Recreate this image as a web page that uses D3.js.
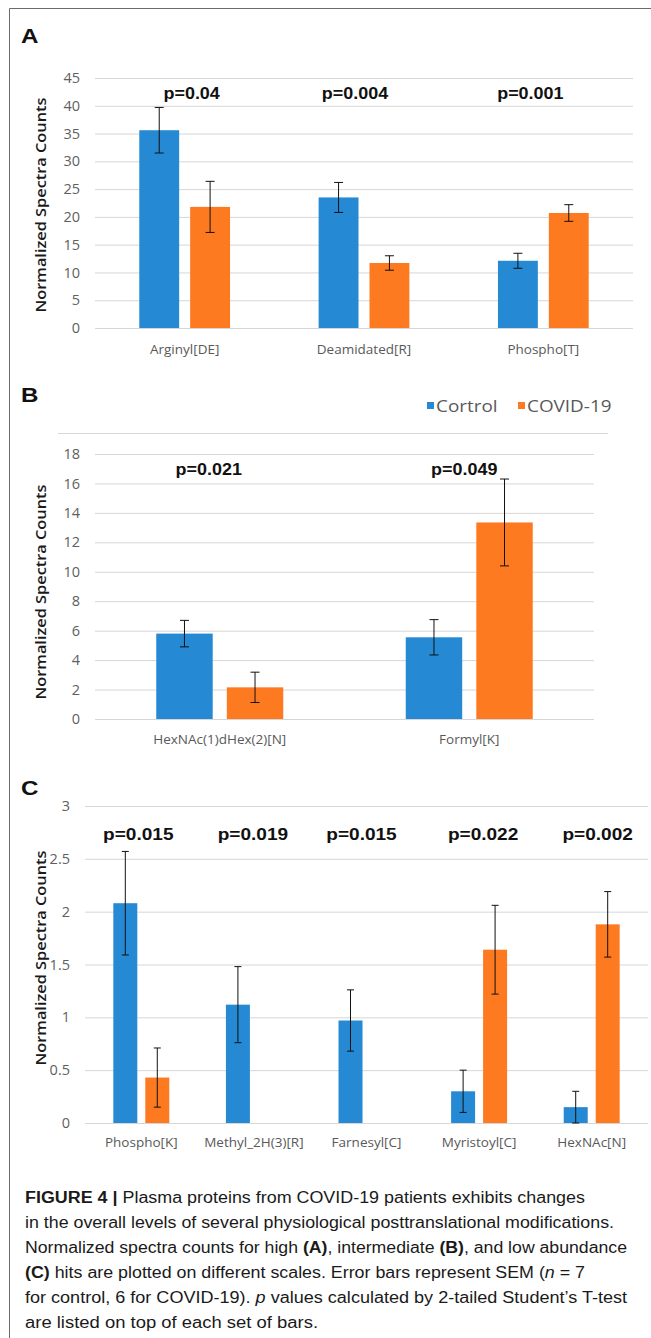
<!DOCTYPE html>
<html>
<head>
<meta charset="utf-8">
<script src="https://cdn.jsdelivr.net/npm/d3@7"></script>
<style>
  body { margin: 0; background: #fff; }
  svg { display: block; }
</style>
</head>
<body>
<script>
// data
const series = ["Cortrol", "COVID-19"]
const colors = ["#2589d3", "#fd7a21"]

const catsA = ["Arginyl[DE]", "Deamidated[R]", "Phospho[T]"]
const controlA = [35.6, 23.5, 12.1]
const covidA = [21.8, 11.7, 20.7]
const semControlA = [4.1, 2.7, 1.35]
const semCovidA = [4.6, 1.3, 1.5]
const pA = ["p=0.04", "p=0.004", "p=0.001"]
const ticksA = [0, 5, 10, 15, 20, 25, 30, 35, 40, 45]

const catsB = ["HexNAc(1)dHex(2)[N]", "Formyl[K]"]
const controlB = [5.8, 5.55]
const covidB = [2.15, 13.35]
const semControlB = [0.9, 1.2]
const semCovidB = [1.03, 2.95]
const pB = ["p=0.021", "p=0.049"]
const ticksB = [0, 2, 4, 6, 8, 10, 12, 14, 16, 18]

const catsC = ["Phospho[K]", "Methyl_2H(3)[R]", "Farnesyl[C]", "Myristoyl[C]", "HexNAc[N]"]
const controlC = [2.08, 1.12, 0.97, 0.30, 0.15]
const covidC = [0.43, 0, 0, 1.64, 1.88]
const semControlC = [0.49, 0.36, 0.29, 0.20, 0.15]
const semCovidC = [0.28, 0, 0, 0.42, 0.31]
const pC = ["p=0.015", "p=0.019", "p=0.015", "p=0.022", "p=0.002"]
const ticksC = [0, 0.5, 1, 1.5, 2, 2.5, 3]

const yTitle = "Normalized Spectra Counts"

const caption = [
  [["b", "FIGURE 4 | "], ["", "Plasma proteins from COVID-19 patients exhibits changes"]],
  [["", "in the overall levels of several physiological posttranslational modifications."]],
  [["", "Normalized spectra counts for high "], ["b", "(A)"], ["", ", intermediate "], ["b", "(B)"], ["", ", and low abundance"]],
  [["b", "(C)"], ["", " hits are plotted on different scales. Error bars represent SEM ("], ["i", "n"], ["", " = 7"]],
  [["", "for control, 6 for COVID-19). "], ["i", "p"], ["", " values calculated by 2-tailed Student\u2019s T-test"]],
  [["", "are listed on top of each set of bars."]]
]

const W = 651, H = 1338
const svg = d3.select("body").append("svg")
  .attr("width", W).attr("height", H)
  .style("background", "#fff")

// frame (top + left)
svg.append("path")
  .attr("d", `M9.5,${H} V8.5 H${W}`)
  .attr("fill", "none").attr("stroke", "#6b6b6b").attr("stroke-width", 1)

// stretch text a bit wider, like the scanned figure
function stretch(sel, k) {
  sel.each(function () {
    const len = this.getComputedTextLength()
    d3.select(this).attr("textLength", len * k).attr("lengthAdjust", "spacingAndGlyphs")
  })
}

function panel(o) {
  const g = svg.append("g")
  const y = d3.scaleLinear().domain([0, d3.max(o.ticks)]).range([o.bottom, o.top])
  const x0 = d3.scaleBand().domain(o.cats).range([o.left, o.right])
    .paddingInner(o.outerPad).paddingOuter(o.outerPad / 2)
  const x1 = d3.scaleBand().domain(series).range([0, x0.bandwidth()]).paddingInner(o.innerPad)

  // grid + y labels
  const yAxis = d3.axisLeft(y).tickValues(o.ticks).tickFormat(d3.format("~g"))
    .tickSize(-(o.right - o.left)).tickPadding(o.tickPad)
  const ya = g.append("g").attr("transform", `translate(${o.left},0)`).call(yAxis)
  ya.select(".domain").remove()
  ya.selectAll("line").attr("stroke", "#d6d6d6")
  ya.selectAll("text").attr("fill", "#5f5f5f")
    .style("font-family", "'Open Sans', sans-serif").style("font-size", o.tickFont + "px")

  // x labels
  const xa = g.append("g").attr("transform", `translate(0,${o.bottom})`)
    .call(d3.axisBottom(x0).tickSize(0).tickPadding(o.xPad))
  xa.select(".domain").remove()
  xa.selectAll("text").attr("fill", "#595959")
    .style("font-family", "'Open Sans', sans-serif").style("font-size", "13.5px")

  const rows = o.cats.map((c, i) => ({
    cat: c,
    vals: [
      { s: series[0], v: o.control[i], e: o.semControl[i] },
      { s: series[1], v: o.covid[i], e: o.semCovid[i] }
    ]
  }))

  const grp = g.selectAll(".grp").data(rows).enter().append("g")
    .attr("transform", d => `translate(${x0(d.cat)},0)`)

  grp.selectAll("rect").data(d => d.vals).enter().append("rect")
    .attr("x", d => x1(d.s))
    .attr("y", d => y(d.v))
    .attr("width", x1.bandwidth())
    .attr("height", d => y(0) - y(d.v))
    .attr("fill", (d, i) => colors[i])

  const eb = grp.selectAll(".err").data(d => d.vals.filter(v => v.e > 0)).enter().append("g")
    .attr("stroke", "#111").attr("stroke-width", 1).attr("fill", "none")
  const cx = d => x1(d.s) + x1.bandwidth() / 2
  const hi = d => y(d.v + d.e)
  const lo = d => y(Math.max(0, d.v - d.e))
  eb.append("path").attr("d", d =>
    `M${cx(d)},${hi(d)} V${lo(d)}` +
    `M${cx(d) - o.cap},${hi(d)} h${2 * o.cap}` +
    `M${cx(d) - o.cap},${lo(d)} h${2 * o.cap}`)

  // p values
  g.selectAll(".pv").data(o.p).enter().append("text")
    .attr("x", (d, i) => x0(o.cats[i]) + x0.bandwidth() / 2 + o.pNudge[i])
    .attr("y", o.pY)
    .attr("text-anchor", "middle")
    .style("font-family", "'Liberation Sans', Arial, sans-serif")
    .style("font-weight", "bold").style("font-size", o.pFont + "px")
    .attr("fill", "#111")
    .text(d => d)
    .call(stretch, 1.12)

  // y title
  g.append("text")
    .attr("transform", `translate(46,${o.titleY}) rotate(-90)`)
    .attr("text-anchor", "middle")
    .style("font-family", "'Open Sans', sans-serif").style("font-size", "15px")
    .style("font-weight", "600")
    .attr("fill", "#1a1a1a")
    .attr("textLength", 215).attr("lengthAdjust", "spacingAndGlyphs")
    .text(yTitle)

  // panel letter
  g.append("text")
    .attr("x", 21).attr("y", o.letterY)
    .style("font-family", "'Liberation Sans', Arial, sans-serif")
    .style("font-weight", "bold").style("font-size", "21px")
    .attr("fill", "#111")
    .text(o.letter)
    .call(stretch, 1.15)
}

panel({
  letter: "A", letterY: 43,
  cats: catsA, control: controlA, covid: covidA, semControl: semControlA, semCovid: semCovidA,
  p: pA, ticks: ticksA,
  left: 95, right: 633, top: 78, bottom: 328,
  outerPad: 0.494, innerPad: 0.216, cap: 4.5,
  tickPad: 15, tickFont: 14.5, xPad: 16,
  pY: 99, pFont: 16, pNudge: [7, -9, -13],
  titleY: 205
})

panel({
  letter: "B", letterY: 402,
  cats: catsB, control: controlB, covid: covidB, semControl: semControlB, semCovid: semCovidB,
  p: pB, ticks: ticksB,
  left: 95, right: 594, top: 454, bottom: 719,
  outerPad: 0.491, innerPad: 0.2, cap: 4.5,
  tickPad: 15, tickFont: 14.5, xPad: 15,
  pY: 475, pFont: 16, pNudge: [-11, -5],
  titleY: 592
})

panel({
  letter: "C", letterY: 795,
  cats: catsC, control: controlC, covid: covidC, semControl: semControlC, semCovid: semCovidC,
  p: pC, ticks: ticksC,
  left: 85, right: 648, top: 806, bottom: 1123,
  outerPad: 0.503, innerPad: 0.25, cap: 3.5,
  tickPad: 15, tickFont: 14.5, xPad: 14,
  pY: 840, pFont: 17, pNudge: [-3, -1, -5, 4, 6],
  titleY: 958
})

// legend for panel B
svg.append("line")
  .attr("x1", 58).attr("x2", 608).attr("y1", 433.5).attr("y2", 433.5)
  .attr("stroke", "#d6d6d6")
const lg = svg.append("g").attr("transform", "translate(427,0)")
const legendX = [0, 91]
series.forEach((s, i) => {
  lg.append("rect").attr("x", legendX[i]).attr("y", 402).attr("width", 7).attr("height", 7)
    .attr("fill", colors[i])
  lg.append("text").attr("x", legendX[i] + 9).attr("y", 412)
    .style("font-family", "'Open Sans', sans-serif").style("font-size", "16px")
    .attr("fill", "#595959")
    .text(s)
    .call(stretch, 1.18)
})

// caption
const capEnds = [585, 614, 627, 585, 627, 318]
caption.forEach((line, i) => {
  const t = svg.append("text")
    .attr("x", 25).attr("y", 1203 + i * 25)
    .style("font-family", "'Liberation Sans', Arial, sans-serif").style("font-size", "16px")
    .attr("fill", "#1a1a1a")
  line.forEach(([st, txt]) => {
    t.append("tspan")
      .style("font-weight", st === "b" ? "bold" : "normal")
      .style("font-style", st === "i" ? "italic" : "normal")
      .text(txt)
  })
  t.attr("textLength", capEnds[i] - 25).attr("lengthAdjust", "spacingAndGlyphs")
})
</script>
</body>
</html>
